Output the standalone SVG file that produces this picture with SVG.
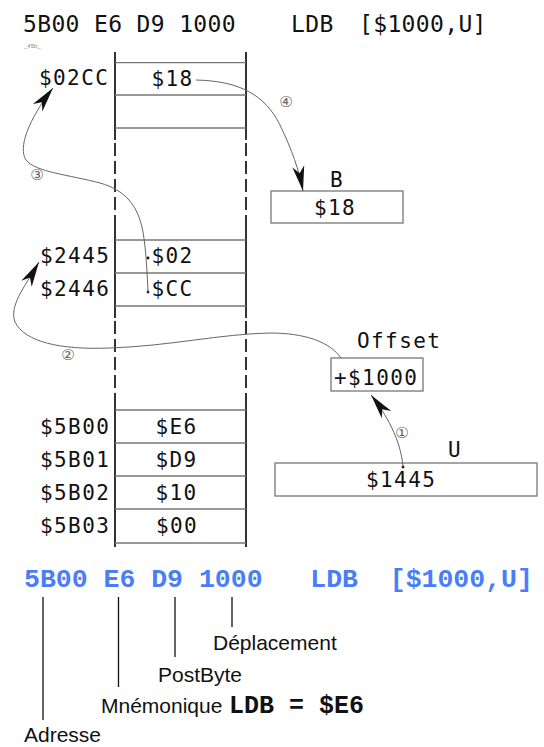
<svg xmlns="http://www.w3.org/2000/svg" width="544" height="747" viewBox="0 0 544 747">
<style>
.mono{font-family:"DejaVu Sans Mono","Liberation Mono",monospace;font-size:21px;letter-spacing:1.4px;fill:#111}
.title{font-family:"DejaVu Sans Mono","Liberation Mono",monospace;font-size:23px;letter-spacing:0.35px;fill:#111}
.cell{stroke:#777;stroke-width:1.3;fill:none}
.col{stroke:#333;stroke-width:2;fill:none}
.dash{stroke:#333;stroke-width:2;fill:none;stroke-dasharray:13 5}
.box{stroke:#777;stroke-width:1.3;fill:#fff}
.conn{stroke:#666;stroke-width:1;fill:none}
.num{font-family:"DejaVu Sans","Noto Sans",sans-serif;font-size:15px;fill:#666;text-anchor:middle}
.blue{font-family:"Liberation Mono","Courier New",monospace;font-weight:bold;font-size:26.5px;fill:#4a7ef7}
.lbl{font-family:"Liberation Sans",Arial,sans-serif;font-size:21px;fill:#111}
.bmono{font-family:"Liberation Mono","Courier New",monospace;font-weight:bold;font-size:25px;fill:#111}
.tick{stroke:#111;stroke-width:1.3}
</style>
<defs>
<marker id="ah" markerUnits="userSpaceOnUse" markerWidth="30" markerHeight="16" viewBox="-28 -8 30 16" refX="0" refY="0" orient="auto">
<path d="M0,0 L-25,-6 L-18,0 L-25,6 Z" fill="#111"/>
</marker>
</defs>

<g id="title">
<text class="title" x="23" y="32">5B00 E6 D9 1000</text>
<text class="title" x="291" y="32">LDB</text>
<text class="title" x="359" y="32">[$1000,U]</text>
<text x="24" y="48" font-family="Liberation Sans,sans-serif" font-size="6" fill="#888">_45b_</text>
</g>

<g id="memory">
<line class="col" x1="115" y1="52" x2="115" y2="140"/>
<line class="dash" x1="115" y1="143" x2="115" y2="225"/>
<line class="col" x1="115" y1="225" x2="115" y2="318"/>
<line class="dash" x1="115" y1="321" x2="115" y2="398"/>
<line class="col" x1="115" y1="398" x2="115" y2="547"/>
<line class="col" x1="246" y1="52" x2="246" y2="140"/>
<line class="dash" x1="246" y1="143" x2="246" y2="225"/>
<line class="col" x1="246" y1="225" x2="246" y2="318"/>
<line class="dash" x1="246" y1="321" x2="246" y2="398"/>
<line class="col" x1="246" y1="398" x2="246" y2="547"/>
<path class="cell" d="M115,62.7H246M115,95H246M115,128H246M115,240H246M115,273H246M115,306H246M115,410H246M115,443H246M115,476H246M115,509H246M115,543H246"/>
<text class="mono" x="151.5" y="86">$18</text>
<text class="mono" x="151.5" y="263">$02</text>
<text class="mono" x="151.5" y="296">$CC</text>
<text class="mono" x="155.5" y="434">$E6</text>
<text class="mono" x="155.5" y="467">$D9</text>
<text class="mono" x="155.5" y="500">$10</text>
<text class="mono" x="156" y="533">$00</text>
<circle cx="148" cy="258" r="1.4" fill="#111"/>
<circle cx="148" cy="292" r="1.4" fill="#111"/>
</g>

<g id="addresses">
<text class="mono" x="39" y="85">$02CC</text>
<text class="mono" x="40" y="263">$2445</text>
<text class="mono" x="40" y="296">$2446</text>
<text class="mono" x="40" y="434">$5B00</text>
<text class="mono" x="40" y="467">$5B01</text>
<text class="mono" x="40" y="500">$5B02</text>
<text class="mono" x="40" y="533">$5B03</text>
</g>

<g id="regB">
<text class="mono" x="330" y="187">B</text>
<rect class="box" x="271" y="191" width="132" height="32"/>
<text class="mono" x="314" y="215">$18</text>
</g>

<g id="offset">
<text class="mono" x="357" y="348">Offset</text>
<rect class="box" x="331" y="358" width="92" height="33"/>
<text class="mono" x="334" y="385">+$1000</text>
</g>

<g id="regU">
<text class="mono" x="448" y="457">U</text>
<rect class="box" x="275" y="463" width="262" height="33"/>
<text class="mono" x="366" y="487">$1445</text>
<circle cx="403" cy="467" r="1.4" fill="#111"/>
</g>

<g id="connectors">
<path class="conn" marker-end="url(#ah)" d="M403,467 C401,440 386,414 371,395"/>
<path class="conn" marker-end="url(#ah)" d="M341,358 C330,342 305,333 270,333 C220,334 170,346 110,348 C60,350 25,342 15,322 C9,306 24,288 39,262"/>
<path class="conn" marker-end="url(#ah)" d="M148,292 C147,270 146,250 143,232 C138,205 125,190 100,183 C70,175 35,172 26,160 C18,148 28,120 53,88"/>
<path class="conn" marker-end="url(#ah)" d="M196,80 C240,81 265,95 280,125 C292,150 299,170 303,191"/>
<text class="num" x="402" y="438">①</text>
<text class="num" x="68" y="360">②</text>
<text class="num" x="37" y="180">③</text>
<text class="num" x="286" y="107">④</text>
</g>

<g id="legend">
<text class="blue" x="24" y="587" xml:space="preserve">5B00 E6 D9 1000   LDB  [$1000,U]</text>
<line class="tick" x1="43" y1="597" x2="43" y2="720"/>
<line class="tick" x1="118.5" y1="597" x2="118.5" y2="687"/>
<line class="tick" x1="175" y1="597" x2="175" y2="657"/>
<line class="tick" x1="232" y1="597" x2="232" y2="627"/>
<text class="lbl" x="213" y="650">Déplacement</text>
<text class="lbl" x="158" y="682">PostByte</text>
<text class="lbl" x="101" y="713">Mnémonique</text>
<text class="bmono" x="229" y="713">LDB = $E6</text>
<text class="lbl" x="24" y="742">Adresse</text>
</g>
</svg>
